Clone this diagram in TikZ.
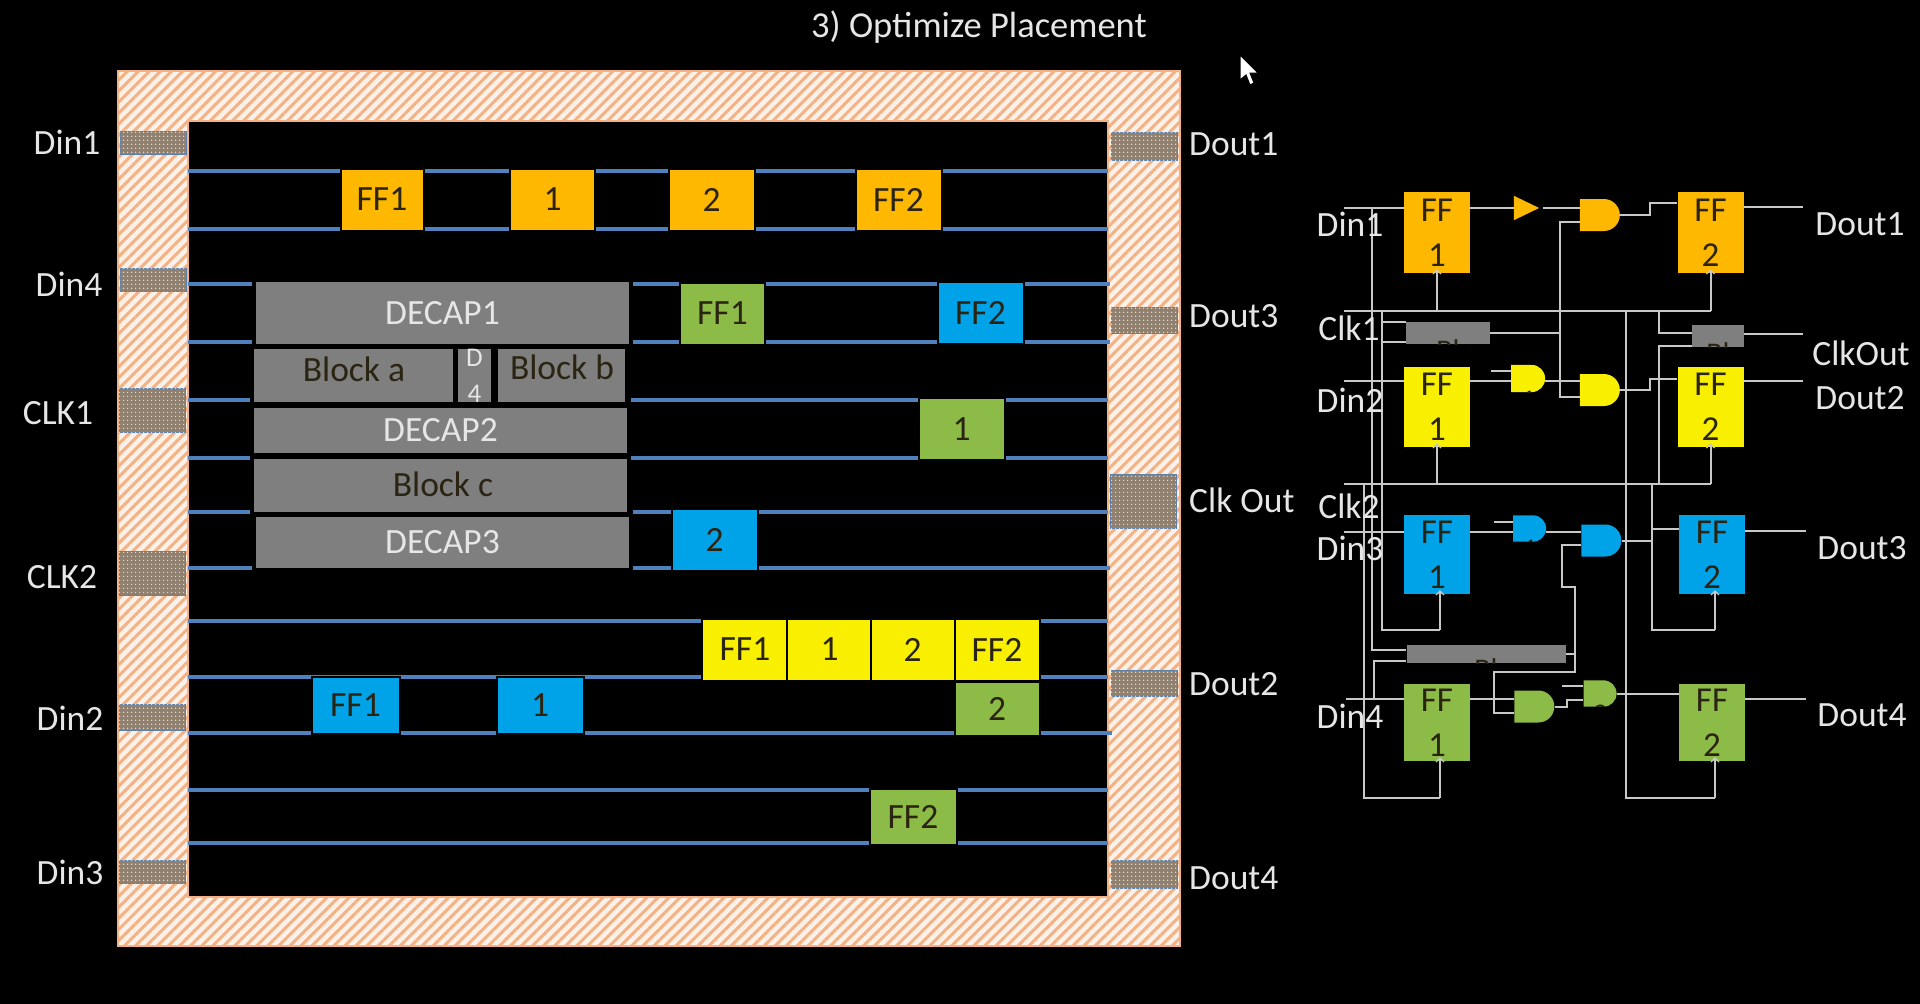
\documentclass[tikz,border=0pt]{standalone}
\usepackage{fontspec}
\setmainfont{Carlito}
\usepackage{tikz}
\usetikzlibrary{arrows.meta}
\usetikzlibrary{patterns.meta}
\usetikzlibrary{shapes.gates.logic.US}

\definecolor{ffOrange}{HTML}{FFB800}
\definecolor{ffYellow}{HTML}{F8F000}
\definecolor{ffBlue}{HTML}{00A2E8}
\definecolor{ffGreen}{HTML}{8DBB48}
\definecolor{railBlue}{HTML}{4F81BD}
\definecolor{blockGray}{HTML}{7F7F7F}
\definecolor{hatchOrange}{HTML}{F4B183}
\definecolor{hatchLight}{HTML}{FBF1E9}
\definecolor{labelGray}{HTML}{E6E6E6}
\definecolor{wireGray}{HTML}{C8C8C8}
\definecolor{cellText}{HTML}{2B2412}

\tikzset{
  lbl/.style={text=labelGray, font=\fontsize{35.5}{40}\selectfont, inner sep=0pt},
  rail/.style={draw=railBlue, line width=3.4pt},
  wire/.style={draw=wireGray, line width=2pt},
  clkwire/.style={wire, -{Straight Barb[length=4pt,width=8pt,line width=1.2pt]}},
  pad/.style={draw=railBlue!70!gray, line width=1pt, fill=gray!75!brown, inner sep=0pt,
    postaction={pattern={Dots[distance=4pt,radius=.9pt]}, pattern color=white!75!brown}},
  cell/.style={draw=black, line width=2pt, minimum width=#1, minimum height=62pt, inner sep=0pt,
    text=cellText, font=\fontsize{35.5}{40}\selectfont},
  blockbox/.style={fill=blockGray, inner sep=0pt, text=cellText, font=\fontsize{35.5}{40}\selectfont},
  decap/.style={blockbox, text=labelGray},
  ffbox/.style={minimum width=66pt, minimum height=#1, inner sep=0pt, align=center,
    text=cellText, font=\fontsize{35}{45}\selectfont},
  cuttext/.style={path picture={\node[anchor=north, inner sep=0pt, text=cellText, font=\fontsize{30}{34}\selectfont]
    at ([yshift=5pt]path picture bounding box.south) {#1};}},
  gate/.style={shape=and gate US, logic gate inputs=nn, inner sep=0pt},
}

\begin{document}
\begin{tikzpicture}[x=1pt, y=-1pt]

\fill[black] (0,0) rectangle (1920,1004);
\useasboundingbox (0,0) rectangle (1920,1004);

\node[lbl, font=\fontsize{36.5}{40}\selectfont] (title) at (979,27) {3) Optimize Placement};

% chip frame

\fill[hatchLight] (118,71) rectangle (1180,946);
\fill[pattern={Lines[angle=45,distance=7.8pt,line width=3pt]}, pattern color=hatchOrange] (118,71) rectangle (1180,946);
\draw[hatchOrange, line width=2.5pt] (118,71) rectangle (1180,946);
\fill[black] (188,121) rectangle (1108,897);
\draw[hatchOrange, line width=2pt] (188,121) rectangle (1108,897);

% pads
\node[pad, minimum width=66pt, minimum height=23pt] (padDin1) at (153,143) {};
\node[pad, minimum width=66pt, minimum height=23pt] (padDin4) at (153,280) {};
\node[pad, minimum width=66pt, minimum height=44pt] (padClk1) at (152,410) {};
\node[pad, minimum width=66pt, minimum height=44pt] (padClk2) at (152,573) {};
\node[pad, minimum width=66pt, minimum height=26pt] (padDin2) at (152,717) {};
\node[pad, minimum width=66pt, minimum height=23pt] (padDin3) at (152,872) {};
\node[pad, minimum width=66pt, minimum height=28pt] (padDout1) at (1144,146) {};
\node[pad, minimum width=66pt, minimum height=26pt] (padDout3) at (1144,320) {};
\node[pad, minimum width=66pt, minimum height=54pt] (padClkOut) at (1143,501) {};
\node[pad, minimum width=66pt, minimum height=26pt] (padDout2) at (1144,683) {};
\node[pad, minimum width=66pt, minimum height=28pt] (padDout4) at (1144,874) {};

% pad labels
\node[lbl] (lDin1) at (67,142) {Din1};
\node[lbl] (lDin4) at (69,284) {Din4};
\node[lbl] (lClk1) at (58,413) {CLK1};
\node[lbl] (lClk2) at (62,577) {CLK2};
\node[lbl] (lDin2) at (70,718) {Din2};
\node[lbl] (lDin3) at (70,872) {Din3};
\node[lbl, anchor=west] (lDout1) at (1189,144) {Dout1};
\node[lbl, anchor=west] (lDout3) at (1189,316) {Dout3};
\node[lbl, anchor=west] (lClkOut) at (1189,500) {Clk Out};
\node[lbl, anchor=west] (lDout2) at (1189,684) {Dout2};
\node[lbl, anchor=west] (lDout4) at (1189,878) {Dout4};

% rails
\draw[rail] (188,171) -- (1108,171);
\draw[rail] (188,229) -- (1108,229);
\draw[rail] (188,284) -- (252,284) (633,284) -- (1110,284);
\draw[rail] (188,342) -- (252,342) (633,342) -- (1110,342);
\draw[rail] (188,400) -- (250,400) (631,400) -- (1108,400);
\draw[rail] (188,458) -- (250,458) (631,458) -- (1108,458);
\draw[rail] (188,512) -- (250,512) (633,512) -- (1108,512);
\draw[rail] (188,568) -- (252,568) (633,568) -- (1110,568);
\draw[rail] (188,621) -- (1108,621);
\draw[rail] (188,677) -- (1108,677);
\draw[rail] (188,733) -- (1112,733);
\draw[rail] (188,790) -- (1108,790);
\draw[rail] (188,843) -- (1108,843);

% blocks
\node[decap, minimum width=373pt, minimum height=62pt] (decap1) at (442.5,313) {DECAP1};
\node[blockbox, minimum width=199pt, minimum height=53pt] (blocka) at (353.5,375.5) {};
\node[blockbox, minimum width=33pt, minimum height=53pt, align=center, text=labelGray, font=\fontsize{27}{36}\selectfont] (decap4) at (474.5,375.5) {D\\4};
\node[blockbox, minimum width=127pt, minimum height=53pt] (blockb) at (561.5,375.5) {};
\node[decap, minimum width=373pt, minimum height=45pt] (decap2) at (440.5,430.5) {DECAP2};
\node[blockbox, minimum width=373pt, minimum height=53pt] (blockc) at (440.5,485.5) {};
\node[decap, minimum width=373pt, minimum height=51pt] (decap3) at (442.5,542.5) {DECAP3};
\node[lbl, text=cellText] (tBlocka) at (354,369) {Block a};
\node[lbl, text=cellText] (tBlockb) at (562,367) {Block b};
\node[lbl, text=cellText] (tBlockc) at (443,484) {Block c};

% placed cells
\node[cell=83pt, fill=ffOrange] (o1) at (382,199.5) {FF1};
\node[cell=85pt, fill=ffOrange] (o2) at (552.5,199.5) {1};
\node[cell=86pt, fill=ffOrange] (o3) at (711.5,199.5) {2};
\node[cell=86pt, fill=ffOrange] (o4) at (898.5,199.5) {FF2};
\node[cell=85pt, fill=ffGreen] (g1) at (722.5,313.5) {FF1};
\node[cell=86pt, fill=ffBlue] (b4) at (980.5,312.5) {FF2};
\node[cell=86pt, fill=ffGreen] (g2) at (961.5,429) {1};
\node[cell=86pt, fill=ffBlue] (b3) at (714.5,540) {2};
\node[cell=86pt, fill=ffYellow] (y1) at (745,649.5) {FF1};
\node[cell=85pt, fill=ffYellow] (y2) at (829.5,649.5) {1};
\node[cell=84pt, fill=ffYellow] (y3) at (912.5,649.5) {2};
\node[cell=85pt, fill=ffYellow] (y4) at (997,649.5) {FF2};
\node[cell=88pt, fill=ffBlue, minimum height=57pt] (b1) at (355.5,705) {FF1};
\node[cell=87pt, fill=ffBlue, minimum height=57pt] (b2) at (540,705) {1};
\node[cell=85pt, fill=ffGreen, minimum height=54pt] (g3) at (997,709) {2};
\node[cell=87pt, fill=ffGreen, minimum height=56pt] (g4) at (913,817) {FF2};

% SCHEMATIC

% flip flops
\node[ffbox=81pt, fill=ffOrange] (ffOa) at (1437,232.5) {FF\\1};
\node[ffbox=81pt, fill=ffOrange] (ffOb) at (1710.5,232.5) {FF\\2};
\node[ffbox=80pt, fill=ffYellow] (ffYa) at (1437,407) {FF\\1};
\node[ffbox=80pt, fill=ffYellow] (ffYb) at (1710.5,407) {FF\\2};
\node[ffbox=79pt, fill=ffBlue] (ffBa) at (1437,554.5) {FF\\1};
\node[ffbox=79pt, fill=ffBlue] (ffBb) at (1712,554.5) {FF\\2};
\node[ffbox=77pt, fill=ffGreen] (ffGa) at (1437,722.5) {FF\\1};
\node[ffbox=77pt, fill=ffGreen] (ffGb) at (1712,722.5) {FF\\2};

% gates
\node[shape=buffer gate US, fill=ffOrange, inner sep=0pt, minimum width=21pt, minimum height=21pt] (bufO) at (1522.5,208) {};
\node[gate, fill=ffOrange, minimum width=40pt, minimum height=26pt, logic gate input sep=8.6pt, cuttext=2] (gateO) at (1598.5,215) {};
\node[gate, fill=ffYellow, minimum width=34pt, minimum height=23pt, logic gate input sep=7.6pt, cuttext=1] (gateYa) at (1527,378.5) {};
\node[gate, fill=ffYellow, minimum width=40pt, minimum height=26pt, logic gate input sep=8.6pt, cuttext=2] (gateYb) at (1598.5,390) {};
\node[gate, fill=ffBlue, minimum width=33pt, minimum height=25pt, logic gate input sep=8.3pt, cuttext=1] (gateBa) at (1528.5,528.5) {};
\node[gate, fill=ffBlue, minimum width=40pt, minimum height=25pt, logic gate input sep=8.3pt, cuttext=2] (gateBb) at (1600,540.5) {};
\node[gate, fill=ffGreen, minimum width=40pt, minimum height=25pt, logic gate input sep=8.3pt, cuttext=1] (gateGa) at (1533,706.5) {};
\node[gate, fill=ffGreen, minimum width=33pt, minimum height=23pt, logic gate input sep=7.6pt, cuttext=2] (gateGb) at (1599,693.5) {};

% schematic blocks
\node[fill=blockGray, minimum width=84pt, minimum height=22pt, inner sep=0pt, cuttext=Bl] (blk1) at (1448,333) {};
\node[fill=blockGray, minimum width=52pt, minimum height=22pt, inner sep=0pt, cuttext=Bl] (blk2) at (1718,336) {};
\node[fill=blockGray, minimum width=159pt, minimum height=18pt, inner sep=0pt, cuttext=Bl] (blk3) at (1486,654) {};

% wire ends and corners
\coordinate (din1L) at (1344,208);
\coordinate (din2L) at (1344,381);
\coordinate (din3L) at (1344,532);
\coordinate (din4L) at (1346,699);
\coordinate (clk1L) at (1344,311);
\coordinate (clk2L) at (1344,484);
\coordinate (out1R) at (1803,207);
\coordinate (outcR) at (1803,334);
\coordinate (out2R) at (1803,381);
\coordinate (out3R) at (1806,531);
\coordinate (out4R) at (1806,699);
\coordinate (cOa) at ([yshift=4pt]ffOa.south);
\coordinate (cOb) at ([yshift=4pt]ffOb.south);
\coordinate (cYa) at ([yshift=4pt]ffYa.south);
\coordinate (cYb) at ([yshift=4pt]ffYb.south);
\coordinate (cBa) at ([xshift=3pt,yshift=4pt]ffBa.south);
\coordinate (cBb) at ([xshift=3pt,yshift=4pt]ffBb.south);
\coordinate (cGa) at ([xshift=3pt,yshift=4pt]ffGa.south);
\coordinate (cGb) at ([xshift=3pt,yshift=4pt]ffGb.south);
\coordinate (tapA) at (1372,650);
\coordinate (tapB) at (1374,661);
\coordinate (tapC) at (1659,333);
\coordinate (tapD) at (1659,346);
\coordinate (clk1v) at (1382,630);
\coordinate (clk1w) at (1625.5,798);
\coordinate (clk2v) at (1363.5,798);
\coordinate (clk2w) at (1651.6,630);
\coordinate (stubA) at (1406,322);
\coordinate (stubB) at (1406,342);
\coordinate (stubY) at (1491,371);
\coordinate (stubB1) at (1494,522);
\coordinate (stubG) at (1562,686);
\coordinate (gapO) at (1543,208);
\coordinate (vA) at (1560,333);
\coordinate (inOb) at (1560,222);
\coordinate (inYb) at (1560,397);
\coordinate (inBb) at (1562,545);
\coordinate (jogA) at (1650,203);
\coordinate (jogB) at (1650,379);
\coordinate (jogC) at (1651.6,529);
\coordinate (jogD) at (1567,700);
\coordinate (rtA) at (1562,587);
\coordinate (rtB) at (1575,672);
\coordinate (rtC) at (1494,713);

% data in
\draw[wire] (din1L) -- (din1L -| ffOa.west);
\draw[wire] (din2L) -- (din2L -| ffYa.west);
\draw[wire] (din3L) -- (din3L -| ffBa.west);
\draw[wire] (din4L) -- (din4L -| ffGa.west);
\draw[wire] (din1L -| tapA) -- (tapA) -- (tapA -| blk3.west);
\draw[wire] (din4L -| tapB) -- (tapB) -- (tapB -| blk3.west);

% clock 1
\draw[wire] (clk1L) -- (clk1L -| ffOb.south);
\draw[clkwire] (clk1L -| ffOb.south) -- (cOb);
\draw[clkwire] (clk1L -| ffOa.south) -- (cOa);
\draw[wire] (clk1L -| clk1v) -- (clk1v) -- (clk1v -| cBa);
\draw[clkwire] (clk1v -| cBa) -- (cBa);
\draw[wire] (clk1L -| clk1w) -- (clk1w) -- (clk1w -| cGb);
\draw[clkwire] (clk1w -| cGb) -- (cGb);
\draw[wire] (stubA -| clk1v) -- (stubA);
\draw[wire] (stubB -| clk1v) -- (stubB);
\draw[wire] (blk1.east) -- (vA);
\draw[wire] (clk1L -| tapC) -- (tapC) -- (tapC -| blk2.west);
\draw[wire] (blk2.east |- outcR) -- (outcR);

% clock 2
\draw[wire] (clk2L) -- (clk2L -| ffYb.south);
\draw[clkwire] (clk2L -| ffYb.south) -- (cYb);
\draw[clkwire] (clk2L -| ffYa.south) -- (cYa);
\draw[wire] (clk2L -| clk2v) -- (clk2v) -- (clk2v -| cGa);
\draw[clkwire] (clk2v -| cGa) -- (cGa);
\draw[wire] (clk2L -| clk2w) -- (clk2w) -- (clk2w -| cBb);
\draw[clkwire] (clk2w -| cBb) -- (cBb);
\draw[wire] (tapD -| blk2.west) -- (tapD) -- (clk2L -| tapD);

% orange path
\draw[wire] (din1L -| ffOa.east) -- (bufO.west);
\draw[wire] (gapO) -- (gapO -| gateO.west);
\draw[wire] (inOb -| gateO.west) -- (inOb) -- (inYb) -- (inYb -| gateYb.west);
\draw[wire] (gateO.east) -- (gateO.east -| jogA) -- (jogA) -- (jogA -| ffOb.west);
\draw[wire] (out1R -| ffOb.east) -- (out1R);

% yellow path
\draw[wire] (din2L -| ffYa.east) -- (din2L -| gateYa.west);
\draw[wire] (stubY) -- (stubY -| gateYa.west);
\draw[wire] (din2L -| gateYa.east) -- (din2L -| gateYb.west);
\draw[wire] (gateYb.east) -- (gateYb.east -| jogB) -- (jogB) -- (jogB -| ffYb.west);
\draw[wire] (out2R -| ffYb.east) -- (out2R);

% blue path
\draw[wire] (din3L -| ffBa.east) -- (din3L -| gateBa.west);
\draw[wire] (stubB1) -- (stubB1 -| gateBa.west);
\draw[wire] (din3L -| gateBa.east) -- (din3L -| gateBb.west);
\draw[wire] (gateBb.east) -- (gateBb.east -| jogC) -- (jogC) -- (jogC -| ffBb.west);
\draw[wire] (out3R -| ffBb.east) -- (out3R);
\draw[wire] (inBb -| gateBb.west) -- (inBb) -- (rtA) -- (rtA -| rtB) -- (rtB) -- (rtB -| rtC) -- (rtC) -- (rtC -| gateGa.west);
\draw[wire] (blk3.east) -- (blk3.east -| rtB);

% green path
\draw[wire] (din4L -| ffGa.east) -- (din4L -| gateGa.west);
\draw[wire] (gateGa.east) -- (gateGa.east -| jogD) -- (jogD) -- (jogD -| gateGb.west);
\draw[wire] (stubG) -- (stubG -| gateGb.west);
\draw[wire] (gateGb.east) -- (gateGb.east -| ffGb.west);
\draw[wire] (out4R -| ffGb.east) -- (out4R);

% schematic labels
\node[lbl] (sDin1) at (1350,224) {Din1};
\node[lbl] (sClk1) at (1349,328) {Clk1};
\node[lbl] (sDin2) at (1350,400) {Din2};
\node[lbl] (sClk2) at (1349,506) {Clk2};
\node[lbl] (sDin3) at (1350,548) {Din3};
\node[lbl] (sDin4) at (1350,716) {Din4};
\node[lbl] (sDout1) at (1860,224) {Dout1};
\node[lbl] (sClkOut) at (1861,353) {ClkOut};
\node[lbl] (sDout2) at (1860,398) {Dout2};
\node[lbl] (sDout3) at (1862,548) {Dout3};
\node[lbl] (sDout4) at (1862,715) {Dout4};

% mouse pointer
\draw[black, fill=white, line width=1pt] (1240,55) -- (1240,80) -- (1246,75) -- (1250,85) -- (1254,83) -- (1250,73) -- (1258,73) -- cycle;

\end{tikzpicture}
\end{document}
